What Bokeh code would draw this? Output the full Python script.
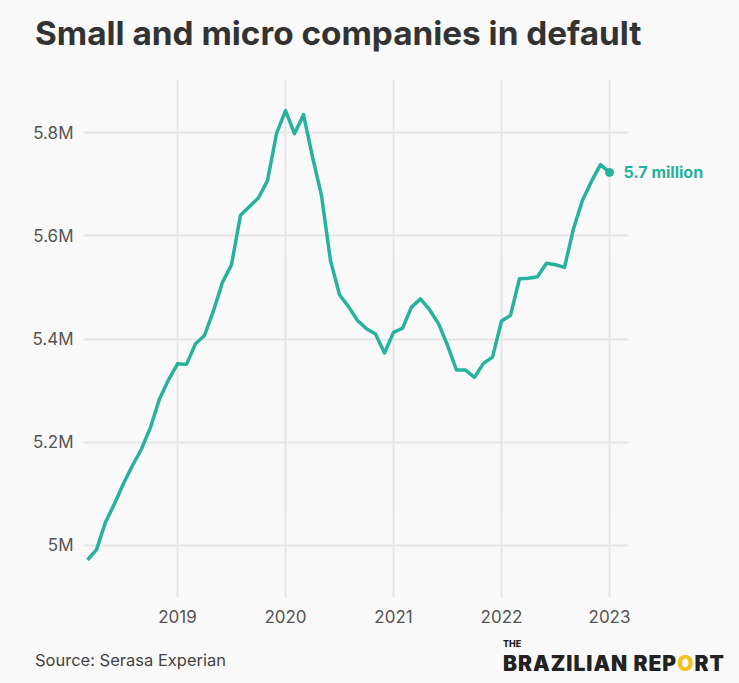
import pandas as pd
from bokeh.plotting import figure
from bokeh.models import FixedTicker, ColumnDataSource, Div
from bokeh.layouts import column
from bokeh.embed import file_html
from bokeh.resources import INLINE
from bokeh.core.properties import value

# ---- data ----
months = [d.strftime("%Y-%m") for d in pd.date_range("2018-03-01", periods=59, freq="MS")]
companies_millions = [
    4.972, 4.992, 5.045, 5.081, 5.120, 5.155, 5.187, 5.229, 5.284, 5.321,
    5.352, 5.351, 5.391, 5.407, 5.455, 5.510, 5.544, 5.640, 5.657, 5.674,
    5.707, 5.798, 5.843, 5.798, 5.835, 5.753, 5.678, 5.552, 5.486, 5.463,
    5.436, 5.420, 5.410, 5.373, 5.413, 5.421, 5.462, 5.478, 5.457, 5.430,
    5.388, 5.340, 5.340, 5.326, 5.353, 5.365, 5.435, 5.446, 5.517, 5.518,
    5.521, 5.547, 5.544, 5.539, 5.614, 5.669, 5.706, 5.738, 5.723,
]
year_ticks = [2019, 2020, 2021, 2022, 2023]
y_ticks = [5.0, 5.2, 5.4, 5.6, 5.8]
y_tick_labels = ["5M", "5.2M", "5.4M", "5.6M", "5.8M"]
last_label = "5.7 million"

title_text = "Small and micro companies in default"
source_text = "Source: Serasa Experian"

TEAL = "#27b29c"
BG = "#f9f9f9"
GRID = "#e6e6e6"

xs = [int(m[:4]) + (int(m[5:]) - 1) / 12 for m in months]
src = ColumnDataSource(dict(x=xs, y=companies_millions))
end_src = ColumnDataSource(dict(x=[xs[-1]], y=[companies_millions[-1]], t=[last_label]))

W, H = 739, 683
HEAD_H = 60
FIG_H = 632 - HEAD_H
FOOT_H = H - 632
X0, X1 = 2018.1296, 2023.1759

p = figure(width=W, height=FIG_H, output_backend="svg", toolbar_location=None, title=None,
           x_range=(X0, 2024.2037), y_range=(4.8992, 5.9031),
           min_border_left=83, min_border_right=0, min_border_top=79 - HEAD_H,
           min_border_bottom=632 - 597,
           background_fill_color=BG, border_fill_color=BG, outline_line_color=None)

p.line("x", "y", source=src, line_color=TEAL, line_width=3.5, line_join="round")
p.scatter("x", "y", source=end_src, size=8, fill_color=TEAL, line_color=TEAL)
p.text("x", "y", text="t", source=end_src, x_offset=14, text_baseline="middle",
       text_color=TEAL, text_font=value("Inter"), text_font_style="bold", text_font_size="16px")

for ax in (p.xaxis, p.yaxis):
    ax.axis_line_color = None
    ax.major_tick_line_color = None
    ax.minor_tick_line_color = None
    ax.major_label_text_color = "#555555"
    ax.major_label_text_font = "Inter"
    ax.major_label_text_font_size = "17px"

p.xaxis.ticker = FixedTicker(ticks=year_ticks)
p.xaxis.major_label_overrides = {y: str(y) for y in year_ticks}
p.xaxis.major_label_standoff = 6
p.yaxis.ticker = FixedTicker(ticks=y_ticks)
p.yaxis.major_label_overrides = dict(zip(y_ticks, y_tick_labels))
p.yaxis.major_label_standoff = 4

p.xgrid.grid_line_color = GRID
p.ygrid.grid_line_color = GRID
p.xgrid.grid_line_width = 2
p.ygrid.grid_line_width = 2
p.ygrid.cross_bounds = (X0, X1)

header_html = f"""
<div style="position:relative;width:{W}px;height:{HEAD_H}px;background:{BG};font-family:Inter,sans-serif;">
  <div style="position:absolute;left:35px;top:13px;font-size:33.3px;line-height:40px;font-weight:700;color:#333333;white-space:nowrap;">{title_text}</div>
</div>
"""
header = Div(text=header_html, width=W, height=HEAD_H, margin=(0, 0, 0, 0))

footer_html = f"""
<div style="position:relative;width:{W}px;height:{FOOT_H}px;background:{BG};font-family:Inter,sans-serif;">
  <div style="position:absolute;left:35px;top:18px;font-size:16.5px;line-height:20px;color:#444444;white-space:nowrap;">{source_text}</div>
  <div style="position:absolute;left:503px;top:7px;font-size:9px;line-height:9px;font-weight:800;color:#222222;">THE</div>
  <div style="position:absolute;left:503px;top:21px;font-size:21px;line-height:21px;font-weight:900;color:#222222;white-space:nowrap;letter-spacing:1px;">BRAZILIAN REP<span style="color:#f2c21b;">O</span>RT</div>
</div>
"""
footer = Div(text=footer_html, width=W, height=FOOT_H, margin=(0, 0, 0, 0))

layout = column(header, p, footer, spacing=0, margin=(0, 0, 0, 0), styles={"background-color": BG})
open("out.html", "w").write(file_html(layout, INLINE))
